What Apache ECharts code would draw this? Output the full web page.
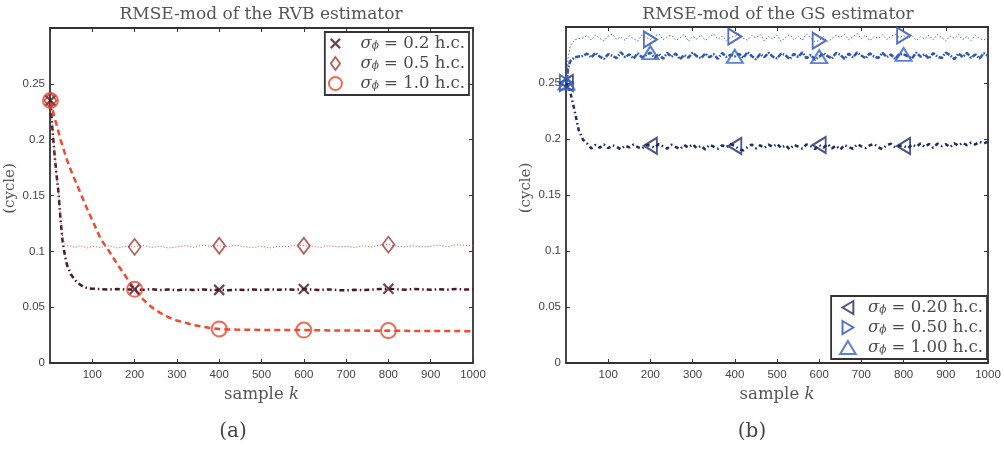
<!DOCTYPE html>
<html><head><meta charset="utf-8">
<script src="https://cdn.jsdelivr.net/npm/echarts@6/dist/echarts.min.js"></script>
<style>html,body{margin:0;padding:0;background:#fff}#c{width:1004px;height:449px}</style>
</head><body><div id="c"></div><script>
// ---------- data ----------
const titles = ['RMSE-mod of the RVB estimator', 'RMSE-mod of the GS estimator'];
const captions = ['(a)', '(b)'];
const leftLegend = ['0.2', '0.5', '1.0'];
const rightLegend = ['0.20', '0.50', '1.00'];
const markerK = [1, 200, 400, 600, 800];

const leftK = [1,5,10,15,20,25,30,35,40,50,60,70,80,90,100,
  120,140,160,180,200,220,240,260,280,300,320,340,360,380,400,
  420,440,460,480,500,520,540,560,580,600,620,640,660,680,700,
  720,740,760,780,800,820,840,860,880,900,920,940,960,980,1000];
const rvb02 = [.235,.213,.190,.170,.153,.128,.108,.097,.088,.079,.074,.0705,.068,.067,.0665,
  .0662,.0658,.0663,.0657,.0660,.0655,.0661,.0654,.0658,.0652,.0657,.0653,.0659,.0654,.0655,
  .0651,.0657,.0653,.0658,.0654,.0659,.0655,.0660,.0656,.0662,.0657,.0654,.0659,.0653,.0650,
  .0655,.0652,.0658,.0662,.0665,.0660,.0657,.0662,.0659,.0656,.0661,.0657,.0663,.0658,.0660];
const rvb05 = [.235,.213,.190,.170,.153,.130,.113,.107,.105,.1045,.1035,.1050,.1040,.1030,.1045,
  .1035,.1050,.1030,.1045,.1040,.1055,.1035,.1045,.1030,.1040,.1050,.1035,.1055,.1045,.1050,
  .1040,.1055,.1040,.1035,.1045,.1030,.1045,.1040,.1055,.1050,.1045,.1035,.1050,.1040,.1045,
  .1035,.1050,.1040,.1055,.1060,.1045,.1040,.1050,.1040,.1045,.1055,.1040,.1060,.1055,.1050];
const rvb10 = [.235,.229,.221,.214,.207,.200,.194,.188,.182,.172,.163,.154,.145,.136,.128,
  .111,.100,.088,.077,.066,.057,.050,.045,.041,.038,.036,.034,.0325,.0313,.0305,
  .0301,.0299,.0298,.0297,.0296,.0296,.0295,.0295,.0295,.0295,.0294,.0293,.0292,.0291,.0290,
  .0290,.0290,.0289,.0289,.0290,.0288,.0288,.0287,.0287,.0287,.0286,.0286,.0286,.0285,.0285];

const rightK = [1,5,10,20,30,40,
  50,60,70,80,90,100,110,120,130,140,
  150,160,170,180,190,200,210,220,230,240,
  250,260,270,280,290,300,310,320,330,340,
  350,360,370,380,390,400,410,420,430,440,
  450,460,470,480,490,500,510,520,530,540,
  550,560,570,580,590,600,610,620,630,640,
  650,660,670,680,690,700,710,720,730,740,
  750,760,770,780,790,800,810,820,830,840,
  850,860,870,880,890,900,910,920,930,940,
  950,960,970,980,990,1000];
const gs020 = [.250,.247,.242,.226,.208,.1995,
  .1960,.1915,.1948,.1922,.1952,.1918,.1945,.1930,.1908,.1942,
  .1925,.1950,.1928,.1912,.1947,.1940,.1921,.1955,.1933,.1914,
  .1949,.1929,.1910,.1946,.1924,.1953,.1917,.1940,.1906,.1948,
  .1931,.1913,.1944,.1926,.1956,.1938,.1910,.1898,.1927,.1951,
  .1916,.1943,.1920,.1950,.1929,.1957,.1919,.1945,.1908,.1948,
  .1932,.1914,.1952,.1936,.1911,.1946,.1923,.1955,.1916,.1941,
  .1905,.1947,.1928,.1913,.1953,.1935,.1918,.1944,.1956,.1925,
  .1910,.1946,.1957,.1924,.1940,.1938,.1917,.1952,.1931,.1960,
  .1929,.1955,.1922,.1958,.1936,.1954,.1927,.1962,.1941,.1966,
  .1945,.1968,.1951,.1975,.1960,.1978];
const gs050 = [.250,.272,.283,.2885,.2895,.2902,
  .2925,.2884,.2930,.2898,.2875,.2920,.2936,.2889,.2912,.2880,
  .2922,.2896,.2874,.2931,.2908,.2888,.2918,.2938,.2887,.2914,
  .2927,.2882,.2901,.2934,.2872,.2916,.2893,.2928,.2879,.2911,
  .2937,.2891,.2919,.2878,.2910,.2915,.2940,.2897,.2883,.2924,
  .2903,.2933,.2876,.2917,.2892,.2929,.2871,.2909,.2932,.2886,
  .2921,.2880,.2939,.2900,.2869,.2878,.2913,.2866,.2898,.2926,
  .2907,.2935,.2885,.2914,.2941,.2894,.2928,.2877,.2915,.2899,
  .2930,.2888,.2918,.2936,.2904,.2925,.2896,.2923,.2881,.2912,
  .2893,.2927,.2884,.2934,.2906,.2874,.2920,.2899,.2932,.2887,
  .2915,.2879,.2926,.2897,.2883,.2909];
const gs100 = [.250,.263,.2695,.2728,.2736,.2742,
  .2762,.2728,.2770,.2735,.2715,.2758,.2742,.2722,.2775,.2731,
  .2756,.2718,.2765,.2730,.2748,.2772,.2725,.2760,.2716,.2768,
  .2734,.2763,.2712,.2751,.2727,.2770,.2739,.2720,.2764,.2729,
  .2757,.2716,.2768,.2733,.2752,.2738,.2761,.2724,.2776,.2741,
  .2711,.2759,.2730,.2771,.2736,.2719,.2763,.2748,.2714,.2760,
  .2733,.2774,.2721,.2750,.2708,.2735,.2766,.2740,.2718,.2769,
  .2752,.2715,.2762,.2729,.2773,.2746,.2720,.2765,.2737,.2723,
  .2770,.2731,.2755,.2714,.2761,.2755,.2739,.2719,.2772,.2735,
  .2758,.2717,.2767,.2736,.2722,.2771,.2749,.2713,.2764,.2732,
  .2769,.2726,.2755,.2719,.2766,.2743];

// ---------- styling ----------
const SERIF = '"DejaVu Serif", serif';
const SANS = '"Liberation Sans", Arial, sans-serif';
const PATH_X = 'path://M0,0L10,10M10,0L0,10';
const PATH_X_LEG = 'path://M-2,-2M0,0L10,10M10,0L0,10M12,12';
const PATH_LEFT = 'path://M10,0L0,6L10,12Z';
const PATH_RIGHT = 'path://M0,0L10,6L0,12Z';
const PATH_UP = 'path://M6,0L12,10L0,10Z';
const PATH_DIAMOND = 'path://M5,0L10,7L5,14L0,7Z';

const leftSeries = [
  {name:'rvb02', k:leftK, v:rvb02, color:'#4a1824', dash:[5,3,1.5,3], width:2.5, sym:PATH_X, leg:PATH_X_LEG, size:[10,10], bw:2.2},
  {name:'rvb05', k:leftK, v:rvb05, color:'#c0524a', dash:[1,2], width:1, sym:PATH_DIAMOND, size:[12,16], bw:1.8, mcolor:'#a8352f'},
  {name:'rvb10', k:leftK, v:rvb10, color:'#f04a30', dash:[6,4], width:2.5, sym:'circle', size:15, bw:2, mcolor:'#ee4430'}
];
const rightSeries = [
  {name:'gs020', k:rightK, v:gs020, color:'#1e2b6a', dash:[4,3,1.5,3], width:2.5, sym:PATH_LEFT, size:[13,16], bw:2},
  {name:'gs050', k:rightK, v:gs050, color:'#4a66c4', dash:[1.5,2], width:1, sym:PATH_RIGHT, size:[13,16], bw:2, mcolor:'#2d4db3'},
  {name:'gs100', k:rightK, v:gs100, color:'#2c56bd', dash:[5,1.5,1.5,1.5], width:2.5, sym:PATH_UP, size:[16,13], bw:2, mcolor:'#3361c6'}
];

function xAxes(g) {
  const common = {gridIndex:g, type:'value', min:0, max:1000, interval:100,
    axisLine:{onZero:false, lineStyle:{color:'#333', width:1.8}},
    axisTick:{inside:true, length:4, lineStyle:{color:'#333', width:1}},
    splitLine:{show:false}};
  return [
    Object.assign({}, common, {position:'bottom',
      axisLabel:{showMinLabel:false, color:'#444', fontSize:11.5, fontFamily:SANS, margin:6, formatter:v => String(v)},
      name:'{a|sample }{b|k}', nameLocation:'middle', nameGap:20,
      nameTextStyle:{rich:{a:{fontFamily:SERIF, fontSize:16.5, color:'#555'},
                           b:{fontFamily:SERIF, fontSize:16.5, fontStyle:'italic', color:'#555'}}}}),
    Object.assign({}, common, {position:'top', axisLabel:{show:false}})
  ];
}
function yAxes(g) {
  const common = {gridIndex:g, type:'value', min:0, max:0.3, interval:0.05,
    axisLine:{onZero:false, lineStyle:{color:'#333', width:1.8}},
    axisTick:{inside:true, length:4, lineStyle:{color:'#333', width:1}},
    splitLine:{show:false}};
  return [
    Object.assign({}, common, {position:'left',
      axisLabel:{showMaxLabel:false, color:'#444', fontSize:11.5, fontFamily:SANS, margin:5},
      name:'(cycle)', nameLocation:'middle', nameGap:32,
      nameTextStyle:{fontFamily:SERIF, fontSize:15, color:'#555', padding:[0,0,0,14]}}),
    Object.assign({}, common, {position:'right', axisLabel:{show:false}})
  ];
}

const series = [];
function addSeries(list, axisIdx) {
  list.forEach(s => {
    const pts = s.k.map((k, i) => [k, s.v[i]]);
    series.push({type:'line', name:s.name + '_line', xAxisIndex:axisIdx, yAxisIndex:axisIdx,
      data:pts, showSymbol:false, symbol:'none', animation:false, z:2,
      lineStyle:{color:s.color, width:s.width, type:s.dash}});
    series.push({type:'scatter', name:s.name, xAxisIndex:axisIdx, yAxisIndex:axisIdx,
      data:pts.filter(p => markerK.indexOf(p[0]) >= 0), symbol:s.sym, symbolSize:s.size,
      symbolKeepAspect:false, animation:false, z:3,
      itemStyle:{color:'rgba(0,0,0,0)', borderColor:s.mcolor || s.color, borderWidth:s.bw}});
  });
}
addSeries(leftSeries, 0);
addSeries(rightSeries, 2);

function legend(list, labels, right, top, padLeft, iconW, textPad) {
  const map = {};
  list.forEach((s, i) => map[s.name] = labels[i]);
  return {
    orient:'vertical', right:right, top:top, selectedMode:false,
    backgroundColor:'#fff', borderColor:'#333', borderWidth:1.8, borderRadius:0,
    padding:[3,4,3,padLeft], itemGap:3, itemWidth:iconW, itemHeight:13, symbolKeepAspect:true,
    data:list.map(s => ({name:s.name, icon:s.leg || s.sym,
      itemStyle:{color:'rgba(0,0,0,0)', borderColor:s.mcolor || s.color, borderWidth:s.bw}})),
    formatter: n => '{s|σ}{p|ϕ}{t| = ' + map[n] + ' h.c.}',
    textStyle:{padding:[0,0,0,textPad], rich:{
      s:{fontFamily:SERIF, fontStyle:'italic', fontSize:16.5, color:'#4a4a4a', lineHeight:17},
      p:{fontFamily:SERIF, fontStyle:'italic', fontSize:10.5, color:'#4a4a4a', lineHeight:10, verticalAlign:'bottom'},
      t:{fontFamily:SERIF, fontSize:16.5, color:'#4a4a4a', lineHeight:17}}}
  };
}

const option = {
  animation:false,
  backgroundColor:'#fff',
  grid:[{left:50, top:28, width:423, height:335}, {left:566, top:27, width:422, height:336}],
  xAxis:[...xAxes(0), ...xAxes(1)],
  yAxis:[...yAxes(0), ...yAxes(1)],
  legend:[legend(leftSeries, leftLegend, 535, 32, 3, 14, 13), legend(rightSeries, rightLegend, 17, 296, 8, 16, 7)],
  graphic:[
    {type:'text', x:261, y:15, style:{text:titles[0], align:'center', verticalAlign:'middle', textAlign:'center', textVerticalAlign:'middle', font:'17px ' + SERIF, fill:'#555'}},
    {type:'text', x:778, y:15, style:{text:titles[1], align:'center', verticalAlign:'middle', textAlign:'center', textVerticalAlign:'middle', font:'17px ' + SERIF, fill:'#555'}},
    {type:'text', x:233, y:432, style:{text:captions[0], align:'center', verticalAlign:'middle', textAlign:'center', textVerticalAlign:'middle', font:'20px ' + SERIF, fill:'#444'}},
    {type:'text', x:752, y:432, style:{text:captions[1], align:'center', verticalAlign:'middle', textAlign:'center', textVerticalAlign:'middle', font:'20px ' + SERIF, fill:'#444'}}
  ],
  series:series
};
const chart = echarts.init(document.getElementById('c'), null, {renderer:'canvas'});
chart.setOption(option);
</script></body></html>
